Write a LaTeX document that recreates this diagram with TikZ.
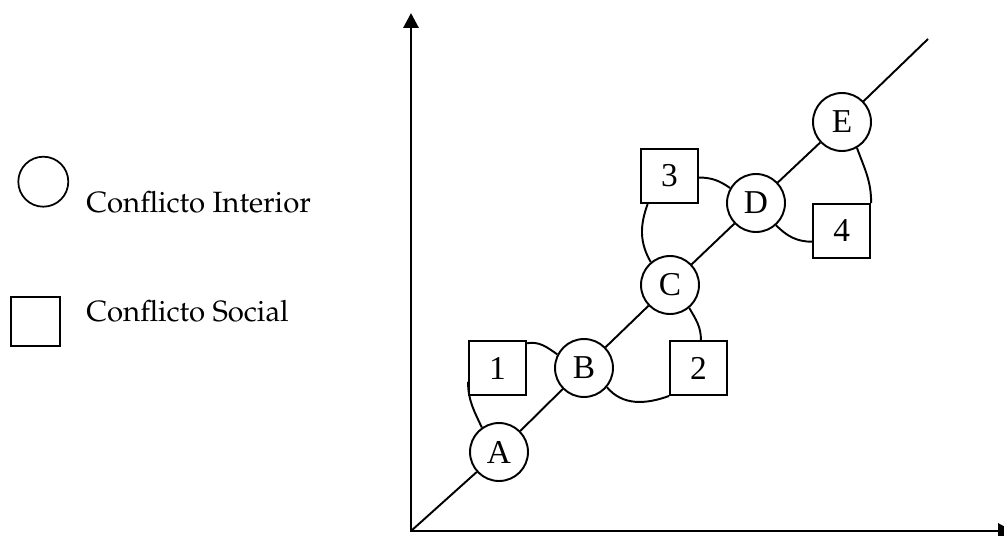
\documentclass[tikz,border=0pt]{standalone}
\usepackage[T1,TU]{fontenc}
\usepackage{fontspec}
\setmainfont{Liberation Serif}
\usetikzlibrary{arrows.meta}
\newcommand{\legfont}{\fontencoding{T1}\fontfamily{ppl}\selectfont}

\begin{document}
\begin{tikzpicture}[x=0.02cm, y=0.02cm,
	inner/.style={draw, circle, line width=1.1pt, minimum size=1.16cm, inner sep=0pt, font=\fontsize{19}{19}\selectfont},
	social/.style={draw, rectangle, line width=1.1pt, minimum width=1.14cm, minimum height=1.08cm, inner sep=0pt, font=\fontsize{19}{19}\selectfont},
	link/.style={line width=1.1pt},
	axis/.style={line width=1.7pt, {Triangle[width=0.3cm, length=0.3cm]}-{Triangle[width=0.3cm, length=0.3cm]}}]

	\useasboundingbox (0,0) rectangle (1004,535);

	\coordinate (O) at (411,4);
	\coordinate (ytip) at (411,522);
	\coordinate (xtip) at (1013,4);
	\coordinate (top) at (928,496);
	\draw[axis] (ytip) -- (O) -- (xtip);

	\node[inner] (A) at (499,83) {A};
	\node[inner] (B) at (584,167) {B};
	\node[inner] (C) at (670,250) {C};
	\node[inner] (D) at (756,332) {D};
	\node[inner] (E) at (842,413) {E};

	\node[social] (s1) at (497.5,167) {1};
	\node[social] (s2) at (698.5,167) {2};
	\node[social] (s3) at (669.5,359) {3};
	\node[social] (s4) at (841.7,304) {4};

	\draw[link] (O) -- (A) -- (B) -- (C) -- (D) -- (E) -- (top);

	\path[link] (A.125) edge[out=115,in=-90] (s1.205);
	\path[link] (s1.40) edge[out=10,in=145] (B.153);
	\path[link] (B.-40) edge[out=-50,in=200] (s2.south west);
	\path[link] (C.-50) edge[out=-60,in=90] (s2.85);
	\path[link] (s3.-128) edge[out=-110,in=120] (C.130);
	\path[link] (s3.-3) edge[out=0,in=145] (D.150);
	\path[link] (D.-48) edge[out=-45,in=180] (s4.200);
	\path[link] (E.-60) edge[out=-70,in=90] (s4.north east);

%	legend
	\node[draw, circle, line width=1pt, minimum size=1cm, inner sep=0pt] (lc) at (43.3,353.3) {};
	\node[draw, line width=1pt, minimum size=0.98cm, inner sep=0pt] (ls) at (35.3,213.3) {};
	\node[anchor=base west, inner sep=0pt, font=\legfont\fontsize{16.7}{18}\selectfont] (lci) at (86,323) {Conflicto Interior};
	\node[anchor=base west, inner sep=0pt, font=\legfont\fontsize{16.7}{18}\selectfont] (lcs) at (86,213.3) {Conflicto Social};
\end{tikzpicture}
\end{document}
